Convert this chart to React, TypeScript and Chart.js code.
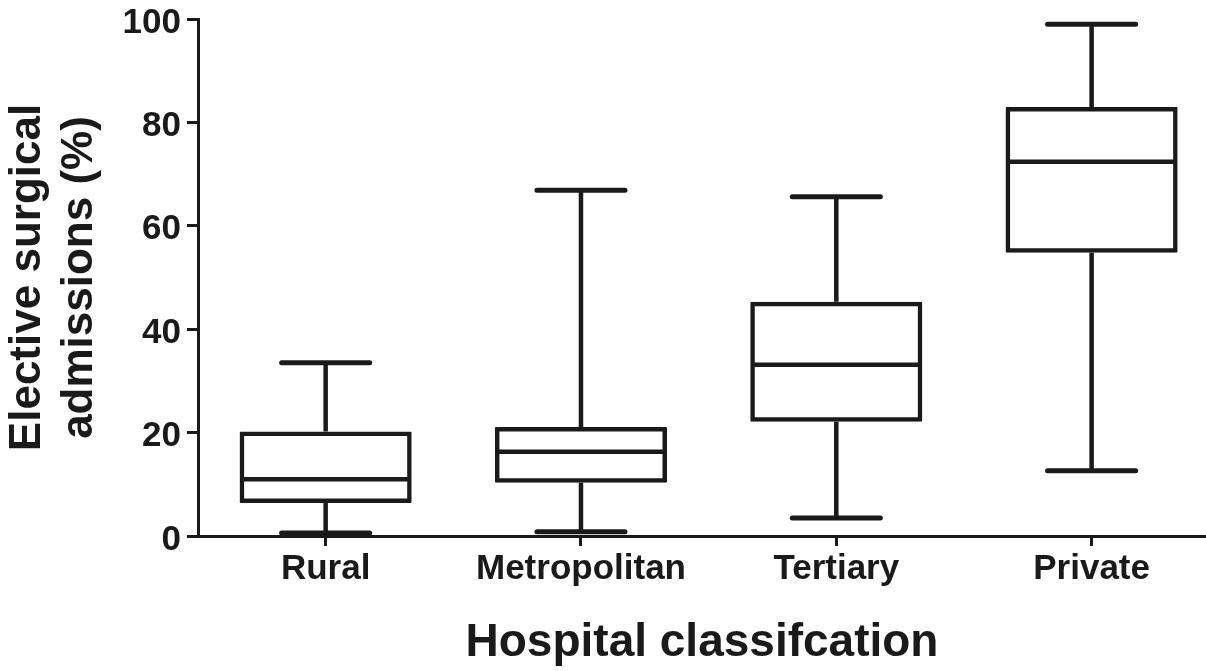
import React, { useEffect, useRef } from "react";
import { Chart, registerables } from "chart.js";

Chart.register(...registerables);

const categories = ["Rural", "Metropolitan", "Tertiary", "Private"];
const minimums = [0.6, 0.8, 3.5, 12.6];
const lowerQuartiles = [6.4, 10.3, 22.1, 54.8];
const medians = [11.0, 16.3, 33.1, 72.4];
const upperQuartiles = [20.2, 21.1, 45.3, 83.0];
const maximums = [33.5, 66.9, 65.6, 99.0];
const yTicks = [0, 20, 40, 60, 80, 100];

const INK = "#1a1a1a";
const FONT = "'Liberation Sans', Arial, Helvetica, sans-serif";
const CAP_FRACTION = 0.345;

const whiskerPlugin = {
  id: "whiskers",
  afterDatasetsDraw(chart: any) {
    const { ctx, scales } = chart;
    const x = scales.x;
    const y = scales.y;
    const meta = chart.getDatasetMeta(0);
    const spacing = x.getPixelForValue(1) - x.getPixelForValue(0);
    const capHalf = (spacing * CAP_FRACTION) / 2;
    ctx.save();
    ctx.strokeStyle = INK;
    categories.forEach((_, i) => {
      const bar = meta.data[i];
      if (!bar) return;
      const { width } = bar.getProps(["width"], true);
      const cx = x.getPixelForValue(i);
      const half = width / 2;
      const yMin = y.getPixelForValue(minimums[i]);
      const yQ1 = y.getPixelForValue(lowerQuartiles[i]);
      const yMed = y.getPixelForValue(medians[i]);
      const yQ3 = y.getPixelForValue(upperQuartiles[i]);
      const yMax = y.getPixelForValue(maximums[i]);
      ctx.lineWidth = 4.5;
      ctx.lineCap = "butt";
      ctx.beginPath();
      ctx.moveTo(cx, yQ3);
      ctx.lineTo(cx, yMax);
      ctx.moveTo(cx, yQ1);
      ctx.lineTo(cx, yMin);
      ctx.stroke();
      ctx.beginPath();
      ctx.moveTo(cx - half + 2, yMed);
      ctx.lineTo(cx + half - 2, yMed);
      ctx.stroke();
      ctx.lineWidth = 5;
      ctx.lineCap = "round";
      ctx.beginPath();
      ctx.moveTo(cx - capHalf, yMax);
      ctx.lineTo(cx + capHalf, yMax);
      ctx.moveTo(cx - capHalf, yMin);
      ctx.lineTo(cx + capHalf, yMin);
      ctx.stroke();
    });
    ctx.restore();
  },
};

export default function App() {
  const canvasRef = useRef<HTMLCanvasElement | null>(null);

  useEffect(() => {
    if (!canvasRef.current) return;
    const chart = new Chart(canvasRef.current, {
      type: "bar",
      data: {
        datasets: [
          {
            data: categories.map((_, i) => ({
              x: i,
              y: [lowerQuartiles[i], upperQuartiles[i]],
            })) as any,
            backgroundColor: "rgba(255,255,255,0)",
            borderColor: INK,
            borderWidth: 4.5,
            borderSkipped: false,
            borderRadius: 1,
            barPercentage: 0.674,
            categoryPercentage: 1,
          },
        ],
      },
      options: {
        responsive: false,
        animation: false,
        layout: { padding: { top: 19, right: 0, bottom: 0, left: 0 } },
        plugins: {
          legend: { display: false },
          tooltip: { enabled: false },
        },
        scales: {
          x: {
            type: "linear",
            offset: false,
            min: -0.5,
            max: 3.448,
            afterBuildTicks: (scale: any) => {
              scale.ticks = categories.map((_, i) => ({ value: i }));
            },
            afterFit: (scale: any) => {
              scale.height = 135;
              scale.paddingLeft = 0;
              scale.paddingRight = 0;
            },
            ticks: {
              callback: (v: any) => categories[v as number] ?? "",
              color: INK,
              font: { family: FONT, size: 35, weight: "bold", lineHeight: 1.2 },
              padding: 2,
              maxRotation: 0,
              autoSkip: false,
            },
            grid: {
              display: true,
              offset: false,
              drawOnChartArea: false,
              drawTicks: true,
              tickLength: 10,
              tickWidth: 3,
              tickColor: INK,
            },
            border: { display: true, color: INK, width: 3 },
            title: {
              display: true,
              text: "Hospital classifcation",
              color: INK,
              font: { family: FONT, size: 46, weight: "bold", lineHeight: 1.2 },
              padding: { top: 0, bottom: 0 },
            },
          },
          y: {
            type: "linear",
            min: 0,
            max: 100,
            afterBuildTicks: (scale: any) => {
              scale.ticks = yTicks.map((v) => ({ value: v }));
            },
            afterFit: (scale: any) => {
              scale.width = 198;
              scale.paddingTop = 0;
              scale.paddingBottom = 0;
            },
            ticks: {
              color: INK,
              font: { family: FONT, size: 35, weight: "bold", lineHeight: 1 },
              padding: 6,
              labelOffset: 4,
            },
            grid: {
              display: true,
              drawOnChartArea: false,
              drawTicks: true,
              tickLength: 11,
              tickWidth: 3,
              tickColor: INK,
            },
            border: { display: true, color: INK, width: 3 },
            title: {
              display: true,
              text: ["Elective surgical", "admissions (%)"],
              color: INK,
              font: { family: FONT, size: 44, weight: "bold", lineHeight: 1.18 },
              padding: { top: 2, bottom: 0 },
            },
          },
        },
      },
      plugins: [whiskerPlugin],
    });
    return () => chart.destroy();
  }, []);

  return (
    <div
      style={{
        position: "absolute",
        left: 0,
        top: 0,
        width: 1206,
        height: 671,
        background: "#ffffff",
      }}
    >
      <canvas ref={canvasRef} width={1206} height={671} style={{ display: "block" }} />
    </div>
  );
}
